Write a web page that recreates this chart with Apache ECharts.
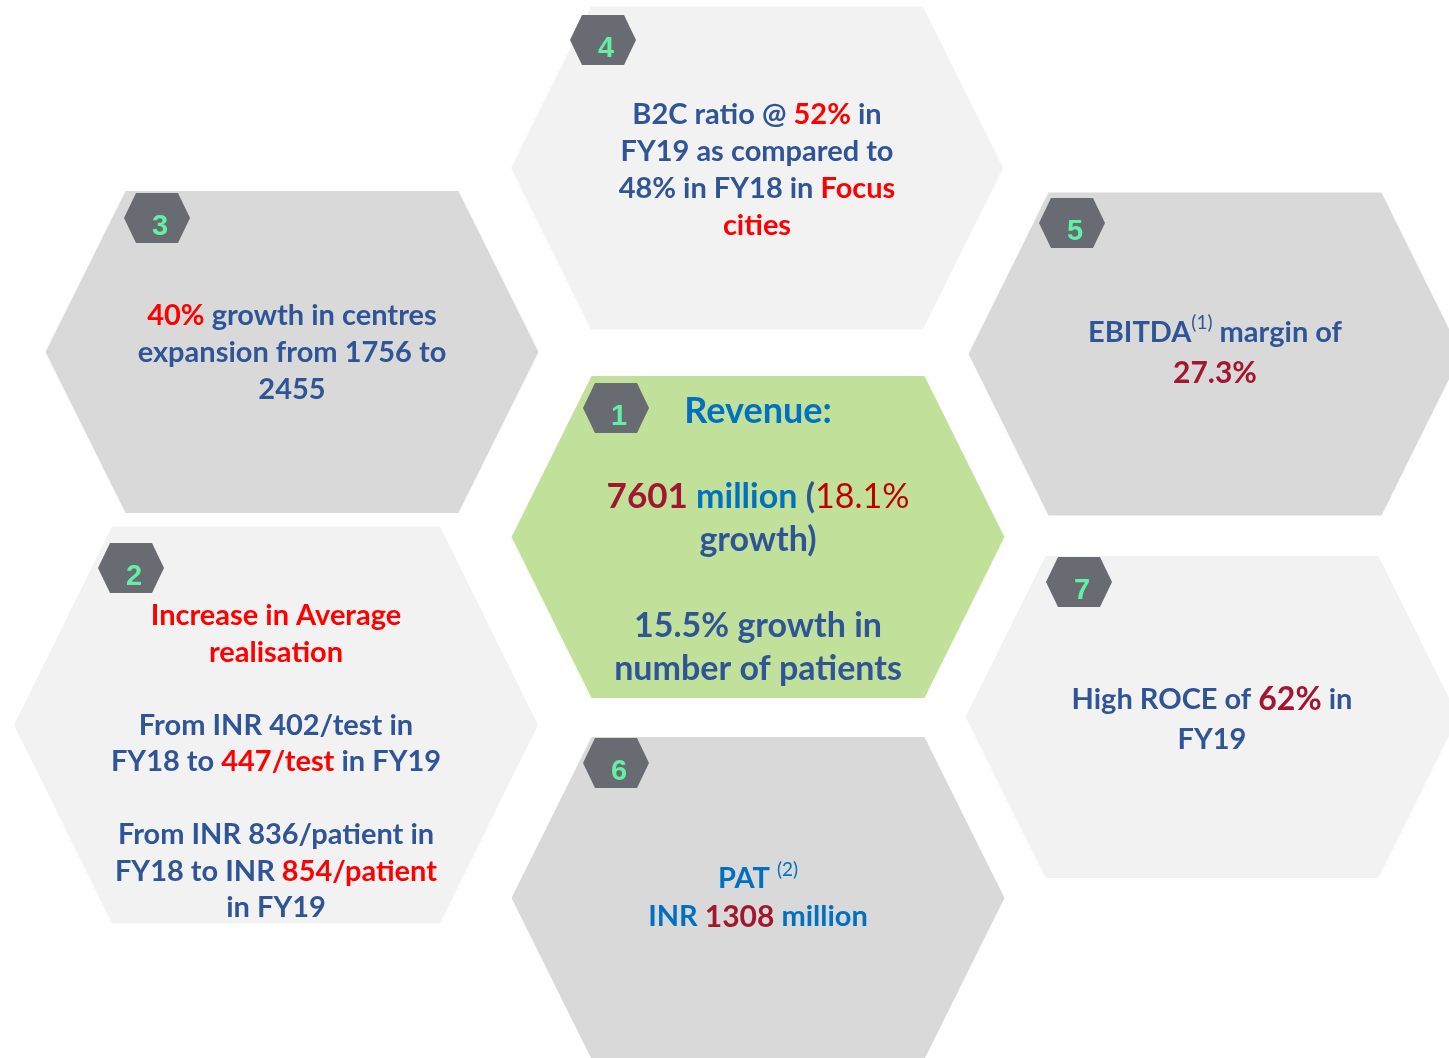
<!DOCTYPE html>
<html>
<head>
<meta charset="utf-8">
<style>
  html, body { margin: 0; padding: 0; background: #ffffff; }
  #main { width: 1449px; height: 1058px; }
</style>
<script src="https://cdn.jsdelivr.net/npm/echarts@6/dist/echarts.min.js"></script>
</head>
<body>
<div id="main"></div>
<script>
// highlight figures (FY19 vs FY18)
var badgeLabels = ['1', '2', '3', '4', '5', '6', '7'];
var revenueMillion = 7601;
var revenueGrowthPct = 18.1;
var patientGrowthPct = 15.5;
var realisationFY18 = [402, 836];
var realisationFY19 = [447, 854];
var realisationUnits = ['test', 'patient'];
var centresGrowthPct = 40;
var centresCount = [1756, 2455];
var b2cRatioPct = [48, 52];
var ebitdaMarginPct = 27.3;
var patMillion = 1308;
var rocePct = 62;

// one text block per hexagon, built from the figures above
var hexTexts = [
    '{cl|Revenue:}\n\n{d|' + revenueMillion + '}{c| million }{b|(}{rl|' + revenueGrowthPct + '%}\n{b|growth)}\n\n' +
    '{b|' + patientGrowthPct + '% growth in}\n{b|number of patients}',
    '{r|Increase in Average}\n{r|realisation}\n\n' +
    '{b|From INR ' + realisationFY18[0] + '/' + realisationUnits[0] + ' in}\n' +
    '{b|FY18 to }{r|' + realisationFY19[0] + '/' + realisationUnits[0] + '}{b| in FY19}\n\n' +
    '{b|From INR ' + realisationFY18[1] + '/' + realisationUnits[1] + ' in}\n' +
    '{b|FY18 to INR }{r|' + realisationFY19[1] + '/' + realisationUnits[1] + '}\n{b|in FY19}',
    '{r|' + centresGrowthPct + '%}{b| growth in centres}\n{b|expansion from ' + centresCount[0] + ' to}\n{b|' + centresCount[1] + '}',
    '{b|B2C ratio @ }{r|' + b2cRatioPct[1] + '%}{b| in}\n{b|FY19 as compared to}\n{b|' + b2cRatioPct[0] + '% in FY18 in }{r|Focus}\n{r|cities}',
    '{b|EBITDA}{sup|(1)}{b| margin of}\n{d|' + ebitdaMarginPct + '%}',
    '{c|PAT }{csup|(2)}\n{c|INR }{d|' + patMillion + '}{c| million}',
    '{b|High ROCE of }{dl|' + rocePct + '%}{b| in}\n{b|FY19}'
];

// layout of the hexagons (pixel space of the hidden axes)
var layout = [
    { cx: 758, cy: 537, w: 493, h: 322, s: 80, fill: '#c1e19b', bx: 616, by: 408, ty: 540, fs: 34, lh: 43 },
    { cx: 276, cy: 725, w: 524, h: 397, s: 98, fill: '#f2f2f2', bx: 131, by: 568, ty: 762, fs: 29, lh: 36.5 },
    { cx: 292, cy: 352, w: 493, h: 322, s: 80, fill: '#d9d9d9', bx: 157, by: 218, ty: 353, fs: 29, lh: 37 },
    { cx: 757, cy: 168, w: 492, h: 323, s: 80, fill: '#f2f2f2', bx: 603, by: 40, ty: 170, fs: 29, lh: 37 },
    { cx: 1215, cy: 354, w: 493, h: 323, s: 80, fill: '#d9d9d9', bx: 1072, by: 223, ty: 353, fs: 29, lh: 40 },
    { cx: 758, cy: 898, w: 493, h: 322, s: 80, fill: '#d9d9d9', bx: 616, by: 763, ty: 898, fs: 29, lh: 38 },
    { cx: 1212, cy: 717, w: 493, h: 322, s: 80, fill: '#f2f2f2', bx: 1079, by: 582, ty: 720, fs: 29, lh: 40 }
];

var FONT = 'Lato, "Open Sans", sans-serif';

function richStyles(fs, lh) {
    return {
        b: { fill: '#2f5597', fontSize: fs, fontWeight: 'bold', fontFamily: FONT, lineHeight: lh },
        c: { fill: '#0070c0', fontSize: fs, fontWeight: 'bold', fontFamily: FONT, lineHeight: lh },
        cl: { fill: '#0070c0', fontSize: fs + 2, fontWeight: 'bold', fontFamily: FONT, lineHeight: lh },
        r: { fill: '#ff0000', fontSize: fs, fontWeight: 'bold', fontFamily: FONT, lineHeight: lh },
        rl: { fill: '#c00000', fontSize: fs, fontWeight: 'normal', fontFamily: FONT, lineHeight: lh },
        d: { fill: '#a0172f', fontSize: fs + 1, fontWeight: 'bold', fontFamily: FONT, lineHeight: lh },
        dl: { fill: '#a0172f', fontSize: fs + 3, fontWeight: 'bold', fontFamily: FONT, lineHeight: lh },
        sup: { fill: '#2f5597', fontSize: 19, fontWeight: 'normal', fontFamily: FONT, lineHeight: lh, verticalAlign: 'top' },
        csup: { fill: '#0070c0', fontSize: 19, fontWeight: 'normal', fontFamily: FONT, lineHeight: lh, verticalAlign: 'top' }
    };
}

function hexPoints(x, y, w, h, s) {
    return [
        [x - w / 2, y], [x - w / 2 + s, y - h / 2], [x + w / 2 - s, y - h / 2],
        [x + w / 2, y], [x + w / 2 - s, y + h / 2], [x - w / 2 + s, y + h / 2]
    ];
}

function renderHex(params, api) {
    var i = api.value(2);
    var L = layout[i];
    var c = api.coord([api.value(0), api.value(1)]);
    var sz = api.size([L.w, L.h]);
    var w = Math.abs(sz[0]), h = Math.abs(sz[1]);
    var b = api.coord([L.bx, L.by]);
    var t = api.coord([L.cx, L.ty]);
    return {
        type: 'group',
        children: [
            { type: 'polygon', shape: { points: hexPoints(c[0], c[1], w, h, L.s) }, style: { fill: L.fill } },
            { type: 'polygon', shape: { points: hexPoints(b[0], b[1], 66, 50, 12) }, style: { fill: '#686b72' } },
            {
                type: 'text', x: b[0] + 3, y: b[1] + 9,
                style: {
                    text: badgeLabels[i], fill: '#63f0a5', fontSize: 29, fontWeight: 'bold',
                    fontFamily: '"Liberation Sans", Arial, sans-serif', align: 'center', verticalAlign: 'middle'
                }
            },
            {
                type: 'text', x: t[0], y: t[1],
                style: {
                    text: hexTexts[i], rich: richStyles(L.fs, L.lh), align: 'center', verticalAlign: 'middle',
                    fontSize: L.fs, lineHeight: L.lh, fontFamily: FONT, fontWeight: 'bold', fill: '#2f5597'
                }
            }
        ]
    };
}

var myChart = echarts.init(document.getElementById('main'));
var option = {
    backgroundColor: '#ffffff',
    animation: false,
    grid: { left: 0, right: 0, top: 0, bottom: 0 },
    xAxis: { type: 'value', min: 0, max: 1449, show: false },
    yAxis: { type: 'value', min: 0, max: 1058, inverse: true, show: false },
    series: [{
        type: 'custom',
        coordinateSystem: 'cartesian2d',
        silent: true,
        clip: false,
        renderItem: renderHex,
        data: layout.map(function (L, i) { return [L.cx, L.cy, i]; })
    }]
};
myChart.setOption(option);
</script>
</body>
</html>
